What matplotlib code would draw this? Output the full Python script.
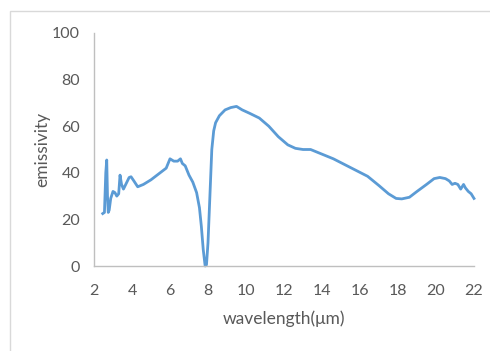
import matplotlib
matplotlib.use("Agg")
import matplotlib.pyplot as plt
from matplotlib.patches import Rectangle

# Emissivity spectrum, wavelength in micrometres
wavelength = [2.46, 2.55, 2.62, 2.67, 2.71, 2.75, 2.80, 2.88, 3.00, 3.10, 3.20, 3.30,
              3.37, 3.45, 3.55, 3.70, 3.85, 3.95, 4.10, 4.30, 4.60, 5.00, 5.40, 5.80,
              6.00, 6.20, 6.40, 6.55, 6.65, 6.80, 7.00, 7.20, 7.40, 7.55, 7.65, 7.75,
              7.85, 7.92, 8.00, 8.10, 8.20, 8.30, 8.40, 8.60, 8.90, 9.20, 9.50, 9.80,
              10.2, 10.7, 11.2, 11.7, 12.2, 12.6, 13.0, 13.4, 14.0, 14.6, 15.2, 15.8,
              16.4, 17.0, 17.5, 17.9, 18.2, 18.6, 19.0, 19.5, 19.9, 20.2, 20.5, 20.7,
              20.85, 21.0, 21.15, 21.3, 21.45, 21.55, 21.7, 21.85, 22.0]
emissivity = [22.5, 23.0, 40.0, 45.5, 30.0, 23.0, 24.0, 29.0, 32.0, 31.5, 30.0, 31.0,
              39.0, 35.0, 33.0, 35.5, 38.0, 38.3, 36.5, 34.0, 35.0, 37.0, 39.5, 42.0,
              46.0, 45.0, 45.0, 46.0, 44.0, 43.0, 39.0, 36.0, 31.5, 25.0, 17.0, 7.0,
              0.0, 0.5, 10.0, 30.0, 50.0, 58.0, 61.5, 64.5, 67.0, 68.0, 68.5, 67.0,
              65.5, 63.5, 60.0, 55.5, 52.0, 50.5, 50.0, 50.0, 48.0, 46.0, 43.5, 41.0,
              38.5, 34.5, 31.0, 29.0, 28.8, 29.5, 32.0, 35.0, 37.5, 38.0, 37.5, 36.5,
              35.0, 35.5, 35.0, 33.0, 35.0, 33.5, 32.0, 31.0, 29.0]

x_ticks = [2, 4, 6, 8, 10, 12, 14, 16, 18, 20, 22]
y_ticks = [0, 20, 40, 60, 80, 100]

plt.rcParams['font.family'] = ['Lato', 'DejaVu Sans']
text_grey = '#595959'
axis_grey = '#BFBFBF'

fig = plt.figure(figsize=(4.9, 3.51), dpi=100)
fig.patch.set_facecolor('white')

# light outer frame
fig.patches.append(Rectangle((10 / 490, -0.1), 1.2, 1 - 11 / 351 + 0.1,
                             transform=fig.transFigure, fill=False,
                             edgecolor='#D9D9D9', linewidth=1.0))

ax = fig.add_axes([94 / 490, 1 - 266 / 351, 380 / 490, 233 / 351])
ax.plot(wavelength, emissivity, color='#5B9BD5', linewidth=2.0,
        solid_joinstyle='round', clip_on=False)

ax.set_xlim(2, 22)
ax.set_ylim(0, 100)
ax.set_xticks(x_ticks)
ax.set_yticks(y_ticks)
ax.tick_params(length=0, labelsize=11.5, colors=text_grey)
ax.tick_params(axis='x', pad=13)
ax.tick_params(axis='y', pad=10)
for s in ['top', 'right']:
    ax.spines[s].set_visible(False)
for s in ['left', 'bottom']:
    ax.spines[s].set_color(axis_grey)
    ax.spines[s].set_linewidth(1.0)

ax.set_xlabel('wavelength(μm)', fontsize=12.5, color=text_grey, labelpad=9)
ax.set_ylabel('emissivity', fontsize=12.5, color=text_grey)
ax.yaxis.set_label_coords(-52 / 380, 0.5)
ax.yaxis.label.set_verticalalignment('center')

fig.savefig('out.png', dpi=100, facecolor='white')
